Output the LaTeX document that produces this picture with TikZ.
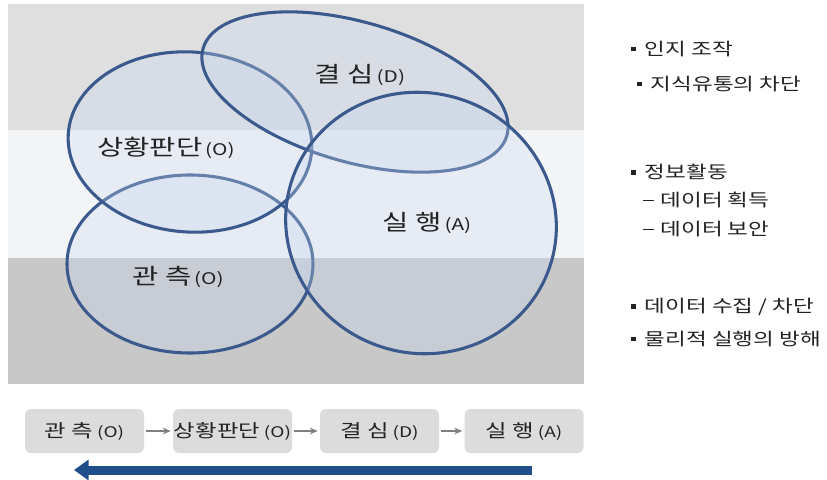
\documentclass[tikz,border=0pt]{standalone}
\usepackage{fontspec}
\setmainfont[FakeStretch=1.3]{Noto Sans CJK KR}
\usetikzlibrary{arrows.meta}

\definecolor{bandtop}{HTML}{DFDFDF}
\definecolor{bandmid}{HTML}{F3F4F6}
\definecolor{bandbot}{HTML}{C8C8C8}
\definecolor{ringline}{HTML}{3A5A8E}
\definecolor{ringfill}{HTML}{CAD8F0}
\definecolor{boxgray}{HTML}{DCDCDC}
\definecolor{backarrow}{HTML}{1F4E8A}
\definecolor{txt}{HTML}{222222}

\newcommand{\steplabel}[2]{{\fontsize{16.5}{19}\selectfont #1}\hspace{2pt}{\fontsize{12}{14}\selectfont(#2)}}
\newcommand{\boxlabel}[2]{{\fontsize{13.5}{16}\selectfont #1} {\fontsize{11}{13}\selectfont(#2)}}
\newcommand{\sqbullet}{\rule[3pt]{3.2pt}{3.2pt}\hspace{7pt}}
\newcommand{\subdash}{\rule[4.4pt]{8pt}{0.8pt}\hspace{5pt}}

\tikzset{
  oodaring/.style={draw=ringline, line width=2.3pt, fill=ringfill, fill opacity=0.3},
  ringtext/.style={text=txt, inner sep=1pt},
  stepbox/.style={fill=boxgray, rounded corners=4.5pt, minimum width=89.25pt,
    minimum height=33pt, inner sep=0pt, text=txt},
  flow/.style={draw=gray, line width=0.9pt, -{Stealth[length=6pt,width=5pt]},
    shorten <=1.5pt, shorten >=1.5pt},
  listtext/.style={anchor=west, inner sep=0pt, text=txt,
    font=\fontsize{13}{15}\selectfont}
}

\begin{document}
\begin{tikzpicture}
  [x=0.75pt, y=-0.75pt]
  \useasboundingbox (0,0) rectangle (827,479);

  \fill[bandtop] (8,4) rectangle (584,130);
  \fill[bandmid] (8,130) rectangle (584,258);
  \fill[bandbot] (8,258) rectangle (584,384);

  \draw[oodaring] (190,264) ellipse [x radius=123, y radius=89];
  \draw[oodaring, rotate around={-4:(190,142)}] (190,142) ellipse [x radius=122, y radius=90];
  \draw[oodaring, rotate around={-16:(355,92)}] (355,92) ellipse [x radius=158, y radius=70];
  \draw[oodaring, rotate around={-20:(421,223)}] (421,223) ellipse [x radius=136, y radius=130];

  \node[ringtext] (decide) at (360,75) {\steplabel{결 심}{D}};
  \node[ringtext] (orient) at (166,148) {\steplabel{상황판단}{O}};
  \node[ringtext] (act) at (427,223) {\steplabel{실 행}{A}};
  \node[ringtext] (observe) at (178,277) {\steplabel{관 측}{O}};

  \node[stepbox] (b1) at (84.5,431) {\boxlabel{관 측}{O}};
  \node[stepbox] (b2) at (232.5,431) {\boxlabel{상황판단}{O}};
  \node[stepbox] (b3) at (379.5,431) {\boxlabel{결 심}{D}};
  \node[stepbox] (b4) at (524,431) {\boxlabel{실 행}{A}};
  \draw[flow] (b1) -- (b2);
  \draw[flow] (b2) -- (b3);
  \draw[flow] (b3) -- (b4);

  \coordinate (backR) at (532,470);
  \coordinate (backL) at (74,470);
  \draw[backarrow, line width=6.75pt, -{Triangle[length=11pt,width=15pt]}] (backR) -- (backL);

  \node[listtext] (l1) at (631,49) {\sqbullet 인지 조작};
  \node[listtext] (l2) at (637,84) {\sqbullet 지식유통의 차단};
  \node[listtext] (l3) at (631,172) {\sqbullet 정보활동};
  \node[listtext] (l4) at (643,200) {\subdash 데이터 획득};
  \node[listtext] (l5) at (643,229) {\subdash 데이터 보안};
  \node[listtext] (l6) at (631,307) {\sqbullet 데이터 수집 / 차단};
  \node[listtext] (l7) at (631,339) {\sqbullet 물리적 실행의 방해};
\end{tikzpicture}
\end{document}
